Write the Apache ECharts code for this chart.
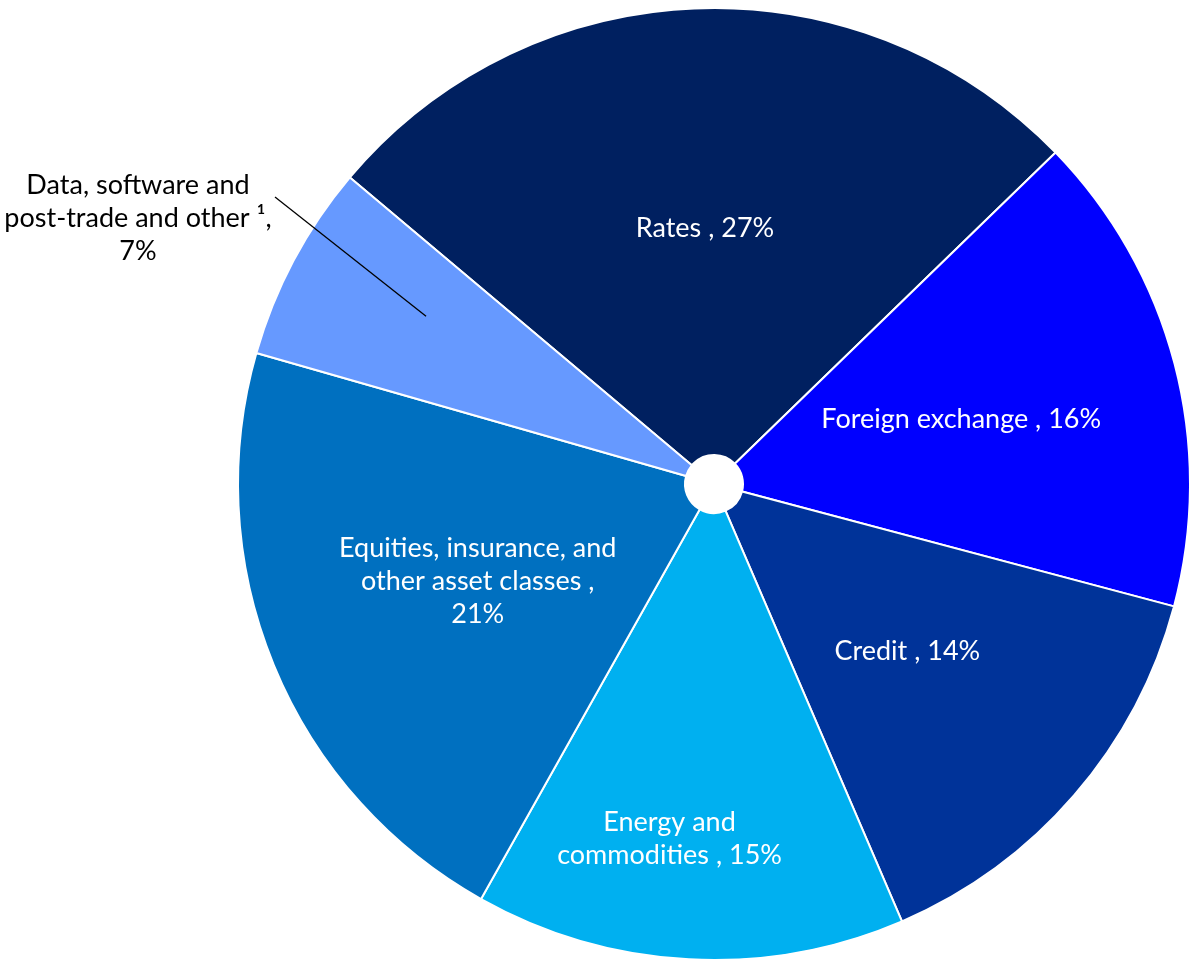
<!DOCTYPE html>
<html><head><meta charset="utf-8">
<script src="https://cdn.jsdelivr.net/npm/echarts@6/dist/echarts.min.js"></script>
<style>html,body{margin:0;padding:0;background:#fff}#c{width:1189px;height:960px}</style>
</head><body><div id="c"></div>
<script>
const categories = [
  'Rates',
  'Foreign exchange',
  'Credit',
  'Energy and\ncommodities',
  'Equities, insurance, and\nother asset classes',
  'Data, software and\npost-trade and other \u00B9'
];
// shares (labels show them rounded)
const values = [26.6, 16.4, 14.4, 14.6, 21.3, 6.7];
const colors = ['#002060', '#0000FF', '#003399', '#00B0F0', '#0070C0', '#6699FF'];
const separators = [' , ', ' , ', ' , ', ' , ', ' ,\n', ',\n'];
const OUTSIDE_INDEX = 5;

const FONT = 'Lato';
const chart = echarts.init(document.getElementById('c'), null, {renderer: 'canvas'});

const mainData = categories.map((n, i) => ({
  name: n, value: values[i],
  itemStyle: {color: colors[i]},
  label: i === OUTSIDE_INDEX ? {position: 'outside', color: '#000'} : {},
  labelLine: {show: false}
}));
const fmt = p => p.name + separators[p.dataIndex] + Math.round(p.value) + '%';

// Where the outside label sits, and where its leader line meets it (relative to label centre)
const outsideLabelPos = {x: 138, y: 218};
const leaderEndOffset = [137, -21];
const leaderDepth = 0.7;      // fraction of the radius where the leader line starts
const leaderAngleFrac = 0.59; // position across the slice's angular span

chart.setOption({
  animation: false,
  series: [{
    type: 'pie',
    center: [714, 484],
    radius: [29, 476],
    startAngle: 139.9,
    clockwise: true,
    avoidLabelOverlap: false,
    itemStyle: {borderColor: '#fff', borderWidth: 2},
    emphasis: {disabled: true},
    label: {
      position: 'inside', color: '#fff', fontFamily: FONT, fontSize: 27,
      lineHeight: 33, align: 'center', formatter: fmt
    },
    labelLayout: p => {
      if (p.dataIndex === 3) return {dx: -31, dy: 100};
      if (p.dataIndex === OUTSIDE_INDEX) {
        return {x: outsideLabelPos.x, y: outsideLabelPos.y, align: 'center', verticalAlign: 'middle'};
      }
      return {};
    },
    data: mainData
  }]
});

// Leader line derived from the library's own layout of the slice
const lay = chart.getModel().getSeriesByIndex(0).getData().getItemLayout(OUTSIDE_INDEX);
const ang = lay.startAngle + leaderAngleFrac * (lay.endAngle - lay.startAngle);
const rr = lay.r * leaderDepth;
const start = [lay.cx + rr * Math.cos(ang), lay.cy + rr * Math.sin(ang)];
const end = [outsideLabelPos.x + leaderEndOffset[0], outsideLabelPos.y + leaderEndOffset[1]];
const leader = new echarts.graphic.Line({
  shape: {x1: start[0], y1: start[1], x2: end[0], y2: end[1]},
  style: {stroke: '#000', lineWidth: 1.3},
  silent: true, z: 100
});
chart.getZr().add(leader);
</script></body></html>
